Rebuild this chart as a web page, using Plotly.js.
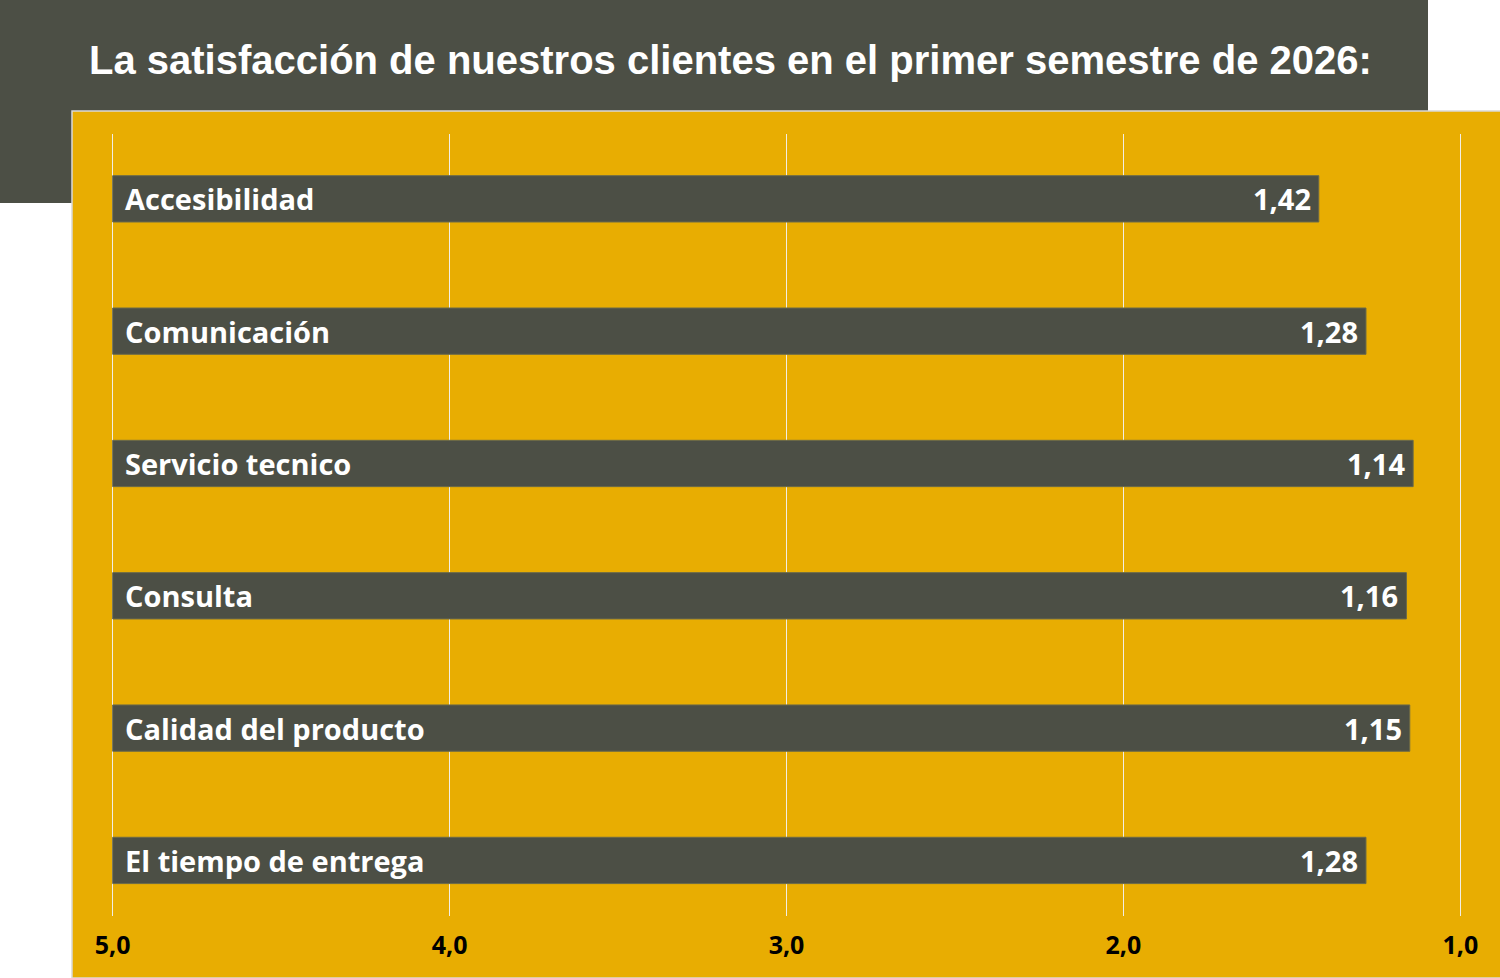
<!DOCTYPE html>
<html>
<head>
<meta charset="utf-8">
<script src="https://cdn.plot.ly/plotly-3.0.1.min.js"></script>
<style>
  html, body { margin: 0; padding: 0; background: #ffffff; }
  #myDiv { width: 1500px; height: 978px; }
</style>
</head>
<body>
<div id="myDiv"></div>
<script>
//  ======== DATA ========
var categories = ['Accesibilidad', 'Comunicación', 'Servicio tecnico', 'Consulta', 'Calidad del producto', 'El tiempo de entrega'];
var scores = [1.42, 1.28, 1.14, 1.16, 1.15, 1.28];
var scaleTop = 5; // bars grow from the worst score (5) towards 1
var tickValues = [5, 4, 3, 2, 1];

var dark = '#4c4f45';
var gold = '#e8ad02';
var labelFont = {family: 'Open Sans, sans-serif', size: 29, color: '#ffffff', weight: 'bold'};

//  ======== PLOT ========
var trace1 = {
  type: 'bar',
  orientation: 'h',
  y: categories,
  x: scores.map(function(v) { return v - scaleTop; }),
  base: scaleTop,
  width: 0.35,
  marker: {
    color: dark,
    line: {color: '#6b6a4a', width: 1}
  },
  hoverinfo: 'none'
};

// category names inside the bars at the left, values at the bar end
var labels = [];
categories.forEach(function(c, i) {
  labels.push({
    x: scaleTop, y: c, xref: 'x', yref: 'y',
    text: c, showarrow: false,
    xanchor: 'left', xshift: 10,
    font: labelFont
  });
  labels.push({
    x: scores[i], y: c, xref: 'x', yref: 'y',
    text: scores[i].toFixed(2).replace('.', ','), showarrow: false,
    xanchor: 'right', xshift: -6,
    font: labelFont
  });
});

var layout = {
  width: 1500,
  height: 978,
  margin: {l: 111, r: 38, t: 134, b: 62, pad: 0},
  paper_bgcolor: '#ffffff',
  plot_bgcolor: 'rgba(0,0,0,0)',
  separators: ',.',
  showlegend: false,
  title: {
    text: 'La satisfacción de nuestros clientes en el primer semestre de 2026:',
    x: 89 / 1500, xanchor: 'left', xref: 'container',
    y: 1 - 60 / 978, yanchor: 'middle', yref: 'container',
    font: {family: 'Liberation Sans, Arial, sans-serif', size: 40, color: '#ffffff', weight: 'bold'}
  },
  xaxis: {
    range: [5.005, 0.995],
    tickvals: tickValues,
    tickformat: '.1f',
    showgrid: true,
    gridcolor: '#f2eee4',
    gridwidth: 1.2,
    zeroline: false,
    showline: false,
    ticks: '',
    ticklabelstandoff: 12,
    tickfont: {family: 'Open Sans, sans-serif', size: 25, color: '#000000', weight: 'bold'},
    fixedrange: true
  },
  yaxis: {
    range: [5.42, -0.49],
    showticklabels: false,
    showgrid: false,
    zeroline: false,
    showline: false,
    ticks: '',
    fixedrange: true
  },
  shapes: [
    // dark header block
    {type: 'rect', xref: 'paper', yref: 'paper', layer: 'below',
     x0: -111 / 1351, x1: 1317 / 1351, y0: 713 / 782, y1: 916 / 782,
     fillcolor: dark, line: {width: 0}},
    // gold chart panel
    {type: 'rect', xref: 'paper', yref: 'paper', layer: 'below',
     x0: -39 / 1351, x1: 1392 / 1351, y0: -62 / 782, y1: 805 / 782,
     fillcolor: gold, line: {color: '#d9d9d9', width: 1.5}}
  ],
  annotations: labels
};

Plotly.newPlot('myDiv', [trace1], layout, {displayModeBar: false, staticPlot: true});
</script>
</body>
</html>
